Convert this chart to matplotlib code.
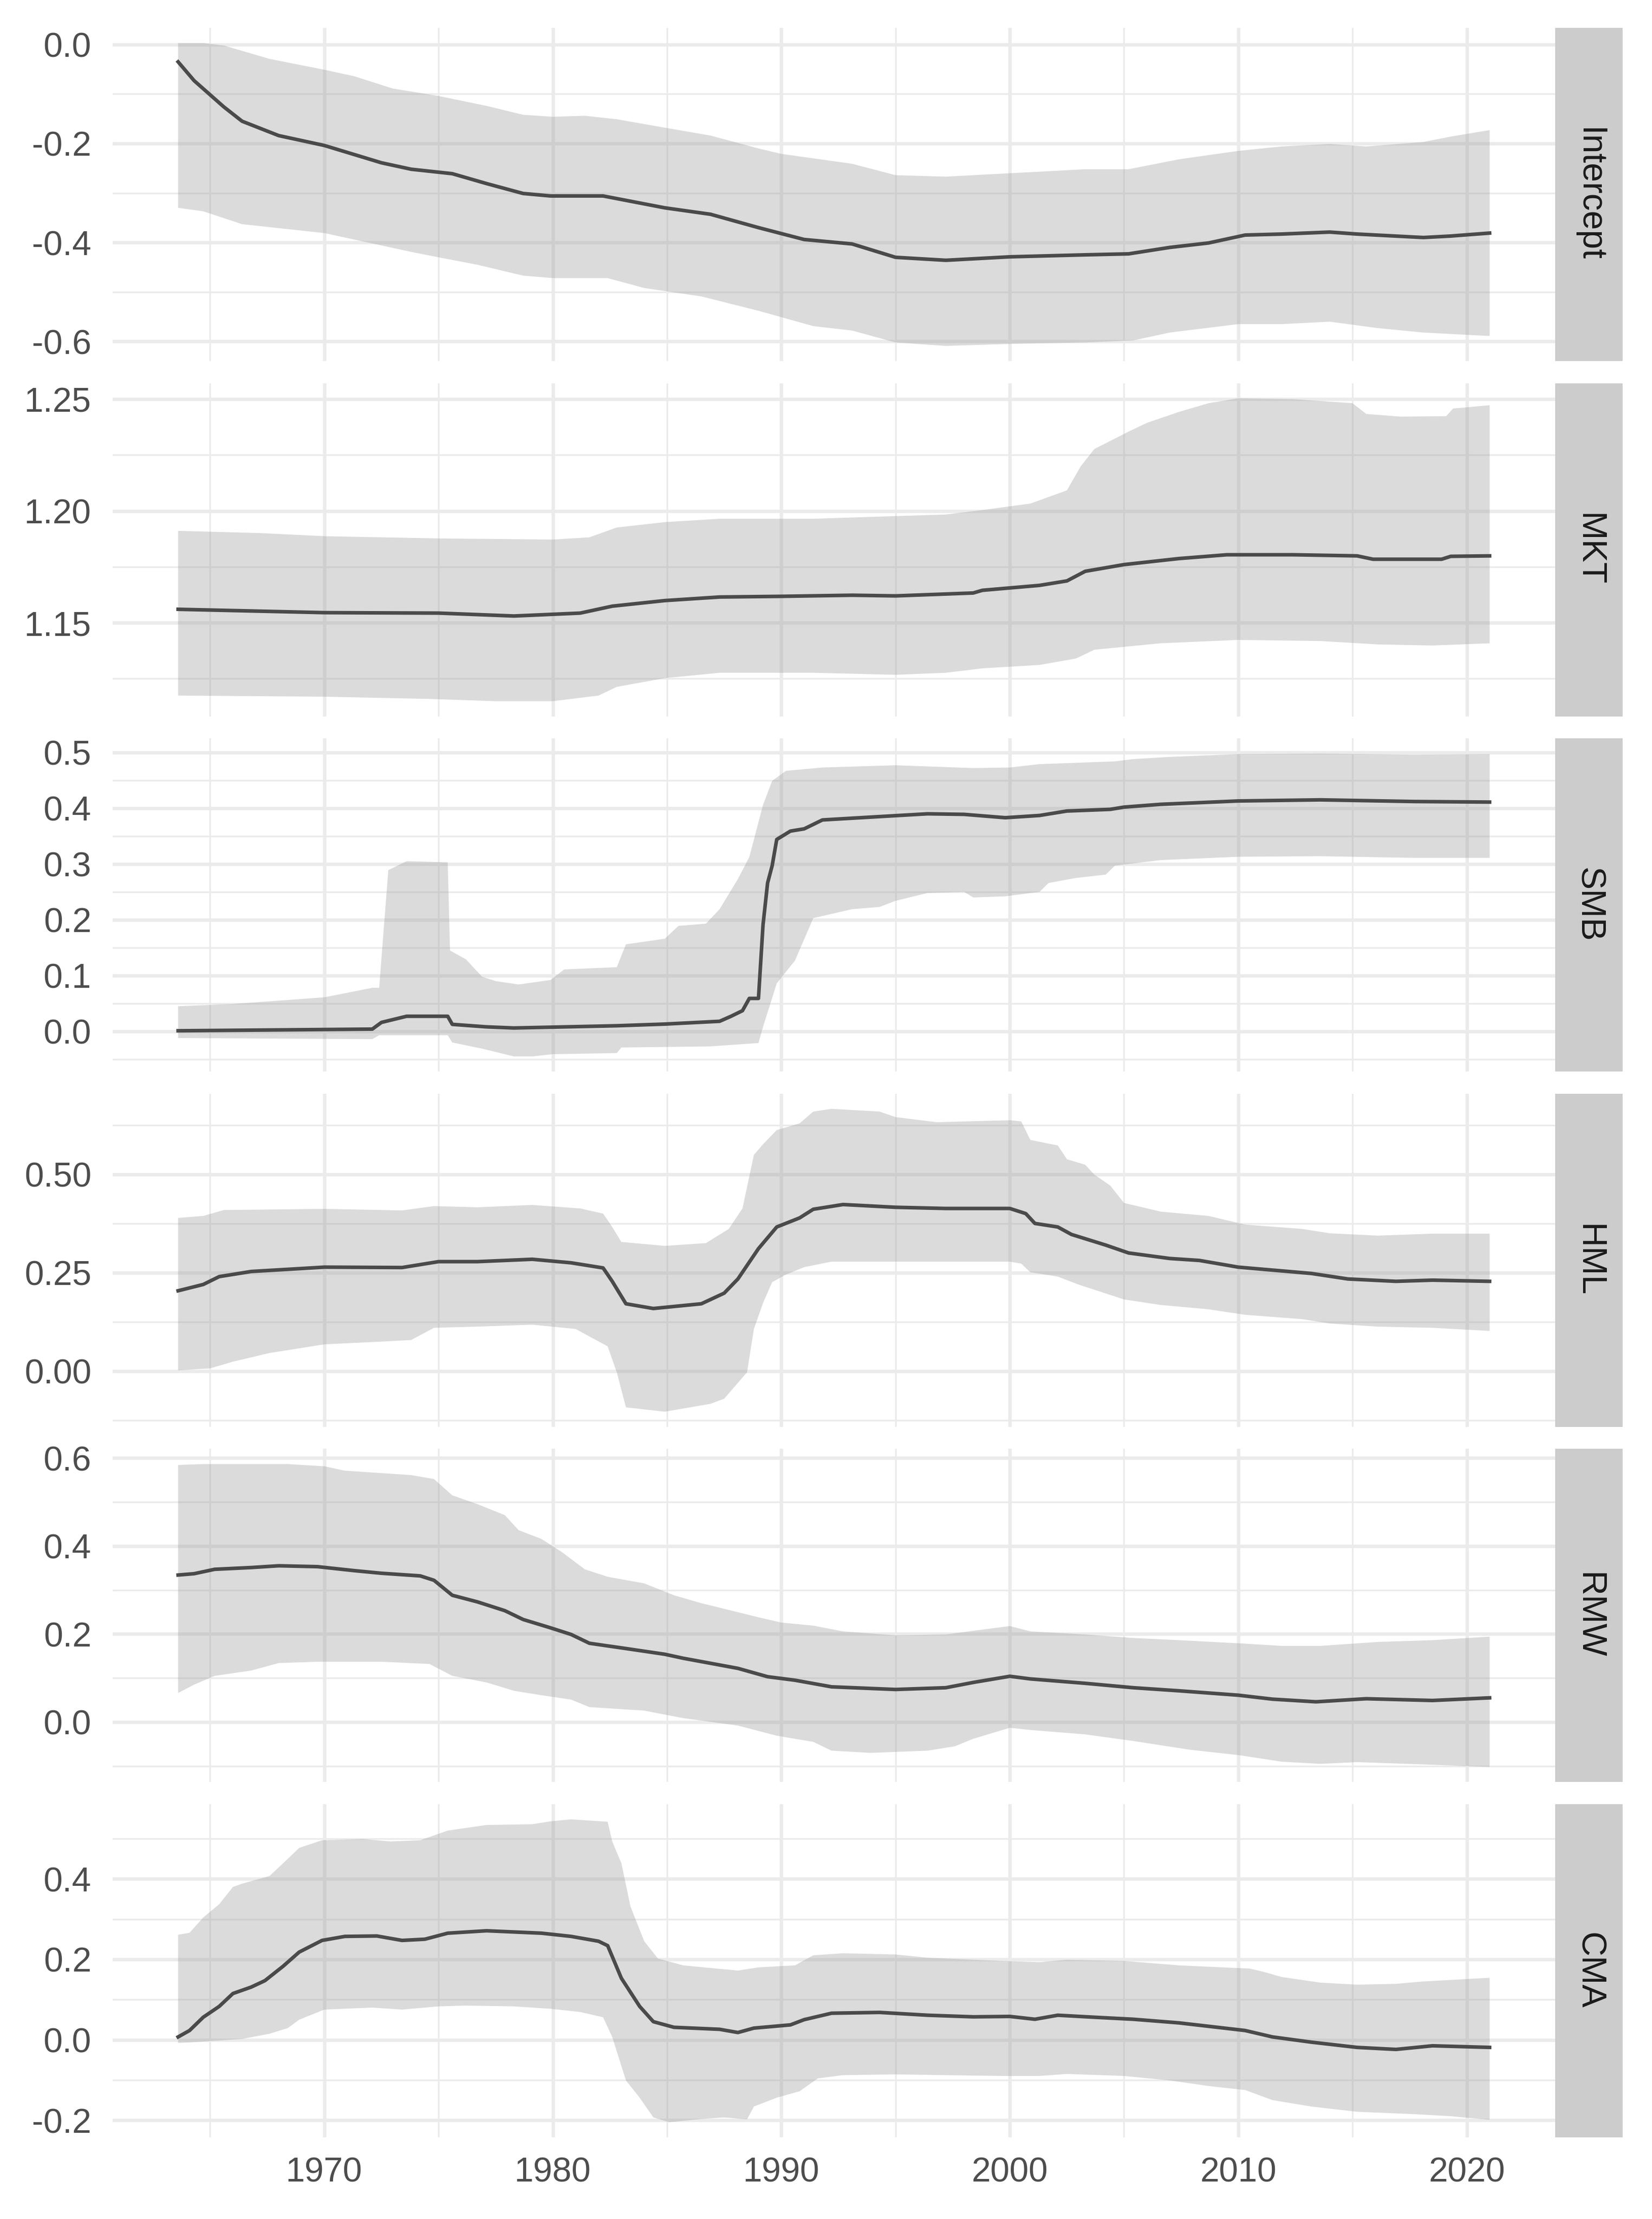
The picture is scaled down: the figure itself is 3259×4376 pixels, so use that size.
import numpy as np
import matplotlib
matplotlib.use("Agg")
import matplotlib.pyplot as plt
from matplotlib.ticker import MultipleLocator, FormatStrFormatter

plt.rcParams["font.family"] = ["Liberation Sans", "DejaVu Sans"]
plt.rcParams["axes.unicode_minus"] = False

# --- Intercept ---
int_year = [1963.6, 1964.3, 1965.6, 1966.4, 1968.0, 1970.0, 1972.5, 1973.8, 1975.6, 1977.1, 1978.7,
            1979.9, 1982.2, 1984.9, 1986.9, 1989.0, 1991.0, 1993.1, 1995.0, 1997.2, 2000.0, 2003.3,
            2005.2, 2007.0, 2008.7, 2010.3, 2011.9, 2014.0, 2015.2, 2018.1, 2019.3, 2021.0]
int_est = [-0.035, -0.073, -0.126, -0.155, -0.184, -0.204, -0.239, -0.252, -0.261, -0.281, -0.301,
           -0.306, -0.306, -0.330, -0.343, -0.370, -0.394, -0.403, -0.430, -0.436, -0.429, -0.425,
           -0.423, -0.410, -0.401, -0.385, -0.383, -0.379, -0.383, -0.390, -0.387, -0.381]
int_up_year = [1963.6, 1964.7, 1965.6, 1967.6, 1970.0, 1971.3, 1973.0, 1975.0, 1977.1, 1978.7, 1980.0,
               1981.4, 1982.8, 1984.9, 1986.9, 1989.0, 1990.0, 1993.1, 1995.0, 1997.2, 1998.8, 2001.3,
               2003.3, 2005.2, 2007.4, 2010.0, 2011.9, 2014.0, 2015.6, 2018.1, 2019.3, 2021.0]
int_up = [0.003, 0.003, -0.002, -0.029, -0.051, -0.064, -0.089, -0.104, -0.124, -0.142, -0.146,
          -0.144, -0.151, -0.168, -0.184, -0.210, -0.221, -0.241, -0.264, -0.267, -0.263, -0.257,
          -0.252, -0.252, -0.232, -0.215, -0.206, -0.201, -0.206, -0.197, -0.186, -0.173]
int_lo_year = [1963.6, 1964.7, 1966.4, 1970.0, 1971.3, 1973.8, 1975.0, 1976.7, 1978.7, 1980.0, 1982.4,
               1984.0, 1986.5, 1989.0, 1991.4, 1993.1, 1995.0, 1997.2, 2000.0, 2003.3, 2005.4, 2007.0,
               2010.0, 2011.9, 2014.0, 2016.1, 2018.1, 2021.0]
int_lo = [-0.330, -0.337, -0.363, -0.381, -0.394, -0.419, -0.430, -0.445, -0.467, -0.472, -0.472,
          -0.492, -0.509, -0.538, -0.569, -0.578, -0.602, -0.609, -0.605, -0.602, -0.598, -0.582,
          -0.565, -0.565, -0.560, -0.573, -0.582, -0.589]

# --- MKT ---
mkt_year = [1963.6, 1970.0, 1975.0, 1978.3, 1981.2, 1982.6, 1984.9, 1987.3, 1990.0, 1993.1, 1995.0,
            1998.4, 1998.8, 2001.3, 2002.5, 2003.3, 2005.0, 2007.4, 2009.5, 2012.4, 2015.2, 2015.9,
            2018.9, 2019.3, 2021.0]
mkt_est = [1.1560, 1.1545, 1.1543, 1.1530, 1.1543, 1.1574, 1.1599, 1.1615, 1.1618, 1.1623, 1.1620,
           1.1633, 1.1645, 1.1667, 1.1687, 1.1730, 1.1760, 1.1787, 1.1804, 1.1804, 1.1799, 1.1784,
           1.1784, 1.1797, 1.1799]
mkt_up_year = [1963.6, 1967.2, 1970.0, 1975.0, 1980.0, 1981.6, 1982.8, 1984.9, 1987.3, 1991.4, 1995.0,
               1997.2, 1998.8, 2000.9, 2002.5, 2003.1, 2003.7, 2005.2, 2006.0, 2007.4, 2008.7, 2010.0,
               2012.4, 2015.0, 2015.6, 2017.1, 2019.1, 2019.4, 2021.0]
mkt_up = [1.1911, 1.1901, 1.1887, 1.1877, 1.1872, 1.1882, 1.1926, 1.1950, 1.1965, 1.1965, 1.1977,
          1.1984, 1.2004, 1.2033, 1.2092, 1.2199, 1.2277, 1.2355, 1.2394, 1.2443, 1.2482, 1.2504,
          1.2500, 1.2482, 1.2434, 1.2422, 1.2424, 1.2458, 1.2473]
mkt_lo_year = [1963.6, 1970.0, 1974.6, 1977.5, 1980.0, 1982.0, 1982.8, 1984.9, 1987.3, 1991.4, 1995.0,
               1997.2, 1998.8, 2001.3, 2002.9, 2003.7, 2006.6, 2010.0, 2013.6, 2016.1, 2018.5, 2021.0]
mkt_lo = [1.1174, 1.1169, 1.1159, 1.1149, 1.1149, 1.1174, 1.1213, 1.1252, 1.1276, 1.1276, 1.1267,
          1.1276, 1.1296, 1.1311, 1.1340, 1.1379, 1.1408, 1.1423, 1.1418, 1.1403, 1.1398, 1.1408]

# --- SMB ---
smb_year = [1963.6, 1972.1, 1972.5, 1973.6, 1975.4, 1975.6, 1977.1, 1978.3, 1982.8, 1984.9, 1987.3,
            1987.8, 1988.3, 1988.6, 1989.0, 1989.2, 1989.4, 1989.6, 1989.8, 1990.4, 1991.0, 1991.8,
            1994.3, 1996.4, 1998.0, 1999.8, 2001.3, 2002.5, 2004.4, 2005.0, 2006.6, 2010.0, 2013.6,
            2017.7, 2021.0]
smb_est = [0.001, 0.004, 0.016, 0.027, 0.027, 0.0125, 0.008, 0.006, 0.010, 0.013, 0.018,
           0.027, 0.037, 0.059, 0.059, 0.191, 0.266, 0.297, 0.344, 0.359, 0.363, 0.379,
           0.385, 0.390, 0.389, 0.383, 0.387, 0.395, 0.398, 0.402, 0.407, 0.413, 0.415,
           0.412, 0.411]
smb_up_year = [1963.6, 1966.0, 1970.0, 1972.1, 1972.4, 1972.8, 1973.6, 1975.4, 1975.5, 1976.2, 1976.9,
               1977.5, 1978.5, 1979.9, 1980.5, 1982.8, 1983.2, 1984.9, 1985.5, 1986.7, 1987.3, 1988.1,
               1988.6, 1989.2, 1989.6, 1990.2, 1991.8, 1995.0, 1998.4, 2000.0, 2001.3, 2004.6, 2005.4,
               2007.0, 2010.0, 2013.6, 2017.7, 2021.0]
smb_up = [0.045, 0.049, 0.061, 0.078, 0.078, 0.289, 0.305, 0.303, 0.145, 0.129, 0.098,
          0.090, 0.084, 0.092, 0.111, 0.115, 0.156, 0.166, 0.189, 0.193, 0.219, 0.273,
          0.3125, 0.406, 0.449, 0.467, 0.473, 0.477, 0.472, 0.473, 0.479, 0.484, 0.488,
          0.492, 0.497, 0.498, 0.496, 0.497]
smb_lo_year = [1963.6, 1972.1, 1972.4, 1975.4, 1975.6, 1976.9, 1978.3, 1979.1, 1980.0, 1982.8, 1983.0,
               1986.9, 1989.0, 1989.2, 1989.8, 1990.6, 1991.4, 1993.1, 1994.3, 1995.0, 1996.4, 1998.0,
               1998.4, 1999.8, 2001.3, 2001.7, 2002.9, 2004.2, 2004.6, 2006.6, 2010.0, 2013.6, 2017.7,
               2021.0]
smb_lo = [-0.012, -0.014, -0.007, -0.007, -0.020, -0.031, -0.045, -0.045, -0.041, -0.039, -0.029,
          -0.027, -0.021, 0.008, 0.086, 0.127, 0.203, 0.219, 0.223, 0.234, 0.248, 0.250,
          0.240, 0.242, 0.250, 0.266, 0.275, 0.281, 0.297, 0.307, 0.313, 0.314, 0.311,
          0.311]

# --- HML ---
hml_year = [1963.6, 1964.7, 1965.4, 1966.8, 1970.0, 1973.4, 1975.0, 1976.7, 1979.1, 1980.8, 1982.2,
            1982.6, 1983.2, 1984.4, 1986.5, 1987.5, 1988.1, 1989.0, 1989.8, 1990.8, 1991.4, 1992.7,
            1995.0, 1997.2, 2000.0, 2000.7, 2001.1, 2002.1, 2002.7, 2004.2, 2005.2, 2007.0, 2008.3,
            2010.0, 2013.2, 2014.8, 2016.9, 2018.5, 2021.0]
hml_est = [0.204, 0.220, 0.240, 0.253, 0.264, 0.263, 0.278, 0.278, 0.284, 0.275, 0.262,
           0.228, 0.171, 0.159, 0.171, 0.198, 0.234, 0.311, 0.366, 0.389, 0.411, 0.423,
           0.416, 0.413, 0.413, 0.400, 0.375, 0.366, 0.347, 0.320, 0.300, 0.286, 0.281,
           0.264, 0.248, 0.234, 0.228, 0.231, 0.228]
hml_up_year = [1963.6, 1964.7, 1965.6, 1970.0, 1973.4, 1974.8, 1976.7, 1979.1, 1981.2, 1982.2, 1982.6,
               1983.0, 1984.9, 1986.7, 1987.7, 1988.3, 1988.8, 1989.2, 1989.8, 1990.8, 1991.4, 1992.2,
               1994.3, 1995.0, 1996.8, 2000.0, 2000.5, 2000.9, 2002.1, 2002.5, 2003.3, 2003.7, 2004.4,
               2005.0, 2006.6, 2008.7, 2010.3, 2012.8, 2014.0, 2016.1, 2018.5, 2021.0]
hml_up = [0.389, 0.394, 0.409, 0.412, 0.408, 0.419, 0.416, 0.422, 0.413, 0.400, 0.366,
          0.328, 0.318, 0.325, 0.361, 0.413, 0.549, 0.576, 0.612, 0.629, 0.659, 0.666,
          0.659, 0.645, 0.632, 0.637, 0.634, 0.587, 0.573, 0.538, 0.524, 0.499, 0.471,
          0.427, 0.405, 0.394, 0.372, 0.361, 0.350, 0.344, 0.349, 0.349]
hml_lo_year = [1963.6, 1965.0, 1966.0, 1967.6, 1970.0, 1972.5, 1973.8, 1974.8, 1976.7, 1979.1, 1981.0,
               1981.6, 1982.4, 1982.8, 1983.2, 1984.9, 1986.9, 1987.5, 1988.5, 1988.8, 1989.2, 1989.6,
               1990.2, 1991.0, 1992.2, 1995.0, 2000.0, 2000.5, 2000.9, 2002.1, 2003.0, 2005.0, 2006.6,
               2008.7, 2010.3, 2012.8, 2014.0, 2016.1, 2018.5, 2021.0]
hml_lo = [0.002, 0.007, 0.024, 0.046, 0.068, 0.075, 0.079, 0.110, 0.113, 0.118, 0.107,
          0.088, 0.063, -0.003, -0.092, -0.103, -0.083, -0.070, -0.003, 0.107, 0.173, 0.226,
          0.245, 0.264, 0.278, 0.278, 0.278, 0.273, 0.251, 0.240, 0.220, 0.182, 0.168,
          0.157, 0.143, 0.132, 0.121, 0.113, 0.110, 0.102]

# --- RMW ---
rmw_year = [1963.6, 1964.3, 1965.2, 1966.8, 1968.0, 1969.7, 1971.3, 1972.5, 1974.2, 1974.8, 1975.6,
            1976.7, 1977.9, 1978.7, 1979.9, 1980.8, 1981.6, 1983.2, 1984.9, 1985.7, 1988.1, 1989.4,
            1990.6, 1992.2, 1995.0, 1997.2, 1998.4, 2000.0, 2000.9, 2003.3, 2005.4, 2007.4, 2010.0,
            2011.5, 2013.4, 2015.6, 2018.5, 2021.0]
rmw_est = [0.334, 0.337, 0.347, 0.351, 0.355, 0.353, 0.344, 0.338, 0.332, 0.322, 0.288,
           0.273, 0.253, 0.233, 0.214, 0.199, 0.179, 0.167, 0.154, 0.145, 0.122, 0.103,
           0.095, 0.080, 0.074, 0.078, 0.090, 0.104, 0.098, 0.088, 0.078, 0.071, 0.061,
           0.052, 0.046, 0.053, 0.049, 0.055]
rmw_up_year = [1963.6, 1964.7, 1968.4, 1970.0, 1970.9, 1973.8, 1974.8, 1975.6, 1976.7, 1977.9, 1978.5,
               1979.5, 1980.4, 1981.4, 1982.4, 1984.0, 1985.3, 1986.5, 1989.0, 1990.0, 1991.4, 1992.7,
               1995.0, 1997.2, 1998.8, 2000.0, 2000.9, 2003.3, 2005.4, 2007.4, 2010.0, 2011.9, 2013.6,
               2016.1, 2018.5, 2021.0]
rmw_up = [0.584, 0.586, 0.586, 0.581, 0.571, 0.561, 0.552, 0.515, 0.495, 0.470, 0.436,
          0.416, 0.386, 0.347, 0.330, 0.315, 0.288, 0.270, 0.238, 0.226, 0.219, 0.206,
          0.197, 0.199, 0.210, 0.218, 0.206, 0.199, 0.191, 0.186, 0.179, 0.173, 0.173,
          0.182, 0.186, 0.194]
rmw_lo_year = [1963.6, 1964.3, 1965.2, 1966.8, 1968.0, 1969.7, 1972.5, 1974.6, 1975.6, 1977.1, 1978.3,
               1979.5, 1980.8, 1981.6, 1984.0, 1985.7, 1988.1, 1989.8, 1991.4, 1992.2, 1993.9, 1996.4,
               1997.6, 1998.4, 2000.0, 2000.9, 2003.3, 2005.4, 2007.9, 2010.0, 2011.9, 2013.6, 2015.2,
               2018.5, 2021.0]
rmw_lo = [0.066, 0.085, 0.105, 0.117, 0.134, 0.137, 0.137, 0.132, 0.105, 0.090, 0.071,
          0.061, 0.051, 0.034, 0.026, 0.009, -0.008, -0.031, -0.045, -0.065, -0.070, -0.065,
          -0.055, -0.038, -0.013, -0.018, -0.028, -0.043, -0.063, -0.075, -0.090, -0.095, -0.091,
          -0.097, -0.102]

# --- CMA ---
cma_year = [1963.6, 1964.1, 1964.7, 1965.4, 1966.0, 1966.8, 1967.4, 1968.2, 1968.9, 1969.9, 1970.9,
            1972.3, 1973.4, 1974.4, 1975.4, 1977.1, 1979.5, 1980.8, 1982.0, 1982.4, 1983.0, 1983.8,
            1984.4, 1985.3, 1987.3, 1988.1, 1988.8, 1990.4, 1991.0, 1992.2, 1994.3, 1996.4, 1998.4,
            2000.0, 2001.1, 2002.1, 2003.7, 2005.4, 2007.4, 2010.3, 2011.5, 2013.2, 2015.2, 2016.9,
            2018.5, 2021.0]
cma_est = [0.007, 0.023, 0.056, 0.083, 0.115, 0.131, 0.147, 0.183, 0.218, 0.247, 0.257,
           0.258, 0.247, 0.250, 0.265, 0.271, 0.265, 0.257, 0.245, 0.234, 0.153, 0.083,
           0.045, 0.031, 0.026, 0.018, 0.029, 0.037, 0.050, 0.066, 0.068, 0.061, 0.057,
           0.058, 0.051, 0.061, 0.056, 0.051, 0.042, 0.023, 0.007, -0.006, -0.019, -0.024,
           -0.015, -0.019]
cma_up_year = [1963.6, 1964.1, 1964.7, 1965.4, 1966.0, 1966.4, 1967.6, 1968.2, 1968.9, 1969.9, 1971.7,
               1972.9, 1974.2, 1975.4, 1977.1, 1979.1, 1979.9, 1980.8, 1982.4, 1982.6, 1983.0, 1983.4,
               1984.0, 1984.6, 1985.7, 1988.1, 1989.0, 1990.6, 1991.4, 1992.7, 1995.0, 1996.4, 1999.6,
               2001.3, 2002.5, 2005.0, 2007.4, 2010.5, 2011.1, 2011.9, 2013.6, 2015.2, 2016.9, 2018.1,
               2021.0]
cma_up = [0.261, 0.266, 0.304, 0.337, 0.380, 0.388, 0.407, 0.439, 0.477, 0.496, 0.499,
          0.493, 0.496, 0.520, 0.534, 0.536, 0.543, 0.548, 0.542, 0.493, 0.439, 0.331,
          0.245, 0.202, 0.185, 0.172, 0.180, 0.185, 0.210, 0.215, 0.212, 0.204, 0.196,
          0.193, 0.199, 0.196, 0.185, 0.177, 0.169, 0.156, 0.142, 0.137, 0.139, 0.145,
          0.154]
cma_lo_year = [1963.6, 1964.3, 1966.4, 1967.6, 1968.4, 1968.9, 1970.0, 1972.1, 1973.4, 1975.0, 1976.2,
               1978.3, 1979.9, 1981.2, 1982.2, 1982.6, 1983.2, 1983.8, 1984.4, 1985.1, 1986.5, 1987.5,
               1988.5, 1988.8, 1989.8, 1990.8, 1991.6, 1992.7, 1995.0, 1997.2, 1999.6, 2001.3, 2002.5,
               2005.0, 2007.0, 2008.7, 2010.3, 2011.5, 2013.2, 2015.2, 2017.7, 2019.3, 2021.0]
cma_lo = [-0.008, -0.006, 0.002, 0.015, 0.029, 0.050, 0.075, 0.080, 0.075, 0.083, 0.085,
          0.083, 0.077, 0.069, 0.056, 0.007, -0.101, -0.144, -0.193, -0.205, -0.197, -0.193,
          -0.198, -0.166, -0.144, -0.128, -0.096, -0.088, -0.086, -0.088, -0.090, -0.090, -0.085,
          -0.090, -0.101, -0.115, -0.125, -0.150, -0.166, -0.179, -0.185, -0.190, -0.199]

factor_names = ["Intercept", "MKT", "SMB", "HML", "RMW", "CMA"]

# --- layout (pixels of the 3259 x 4376 output) ---
W, H, DPI = 3259, 4376, 300
PANEL_LEFT, PANEL_RIGHT = 222, 3068
STRIP_W = 133
PANEL_TOP0, PANEL_H, PANEL_PITCH = 55, 657, 700.6

LINE_COL = "#4A4A4A"
RIBBON_COL = "#999999"
GRID_COL = "#EBEBEB"
STRIP_COL = "#CCCCCC"
FONT_SIZE = 16.3

panels = [
    (int_year, int_est, int_up_year, int_up, int_lo_year, int_lo, 0.2, 0.1, "%.1f"),
    (mkt_year, mkt_est, mkt_up_year, mkt_up, mkt_lo_year, mkt_lo, 0.05, 0.025, "%.2f"),
    (smb_year, smb_est, smb_up_year, smb_up, smb_lo_year, smb_lo, 0.1, 0.05, "%.1f"),
    (hml_year, hml_est, hml_up_year, hml_up, hml_lo_year, hml_lo, 0.25, 0.125, "%.2f"),
    (rmw_year, rmw_est, rmw_up_year, rmw_up, rmw_lo_year, rmw_lo, 0.2, 0.1, "%.1f"),
    (cma_year, cma_est, cma_up_year, cma_up, cma_lo_year, cma_lo, 0.2, 0.1, "%.1f"),
]

fig = plt.figure(figsize=(W / DPI, H / DPI), dpi=DPI)

all_years = np.concatenate([np.asarray(p[0]) for p in panels])
x_min, x_max = all_years.min(), all_years.max()
x_pad = 0.05 * (x_max - x_min)

for i, (name, spec) in enumerate(zip(factor_names, panels)):
    yr, est, up_yr, up, lo_yr, lo, major, minor, fmt = spec
    top = PANEL_TOP0 + i * PANEL_PITCH
    bottom = H - (top + PANEL_H)
    ax = fig.add_axes([PANEL_LEFT / W, bottom / H, (PANEL_RIGHT - PANEL_LEFT) / W, PANEL_H / H])

    # ribbon + estimate
    poly_x = np.concatenate([up_yr, lo_yr[::-1]])
    poly_y = np.concatenate([up, lo[::-1]])
    ax.fill(poly_x, poly_y, color=RIBBON_COL, alpha=0.35, lw=0, zorder=2)
    ax.plot(yr, est, color=LINE_COL, lw=1.7, zorder=3, solid_joinstyle="round")

    y_lo, y_hi = min(lo), max(up)
    y_pad = 0.05 * (y_hi - y_lo)
    ax.set_ylim(y_lo - y_pad, y_hi + y_pad)
    ax.set_xlim(x_min - x_pad, x_max + x_pad)

    ax.yaxis.set_major_locator(MultipleLocator(major))
    ax.yaxis.set_minor_locator(MultipleLocator(minor))
    ax.yaxis.set_major_formatter(FormatStrFormatter(fmt))
    ax.xaxis.set_major_locator(MultipleLocator(10))
    ax.xaxis.set_minor_locator(MultipleLocator(5))

    ax.set_axisbelow(True)
    ax.grid(which="major", color=GRID_COL, linewidth=1.6)
    ax.grid(which="minor", color=GRID_COL, linewidth=0.8)
    for s in ax.spines.values():
        s.set_visible(False)
    ax.set_facecolor("white")
    ax.tick_params(which="both", length=0)
    ax.tick_params(axis="y", pad=10, labelsize=FONT_SIZE, labelcolor="#4D4D4D")
    ax.tick_params(axis="x", pad=9, labelsize=FONT_SIZE, labelcolor="#4D4D4D")
    if i < len(panels) - 1:
        ax.tick_params(axis="x", labelbottom=False)

    # facet strip on the right
    sax = fig.add_axes([PANEL_RIGHT / W, bottom / H, STRIP_W / W, PANEL_H / H])
    sax.set_facecolor(STRIP_COL)
    sax.set_xticks([])
    sax.set_yticks([])
    for s in sax.spines.values():
        s.set_visible(False)
    sax.text(0.5, 0.5, name, rotation=270, ha="center", va="center",
             transform=sax.transAxes, fontsize=FONT_SIZE, color="#1A1A1A")

fig.savefig("out.png", dpi=DPI)
